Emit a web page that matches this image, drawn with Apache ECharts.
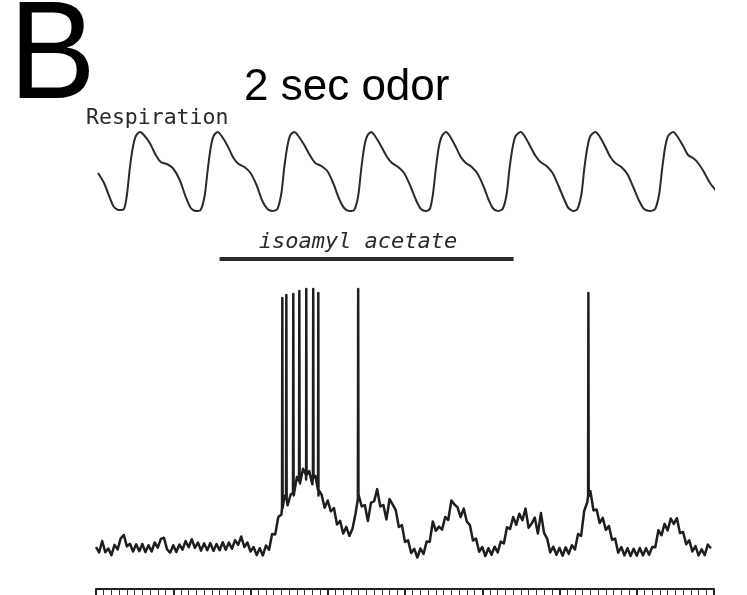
<!DOCTYPE html>
<html><head><meta charset="utf-8">
<script src="https://cdn.jsdelivr.net/npm/echarts@6/dist/echarts.min.js"></script>
<style>html,body{margin:0;padding:0;background:#fff}#c{width:747px;height:595px}</style>
</head><body><div id="c"></div>
<script>
// ---- data (time in seconds) ----
const panelLabel = 'B';
const titleText = '2 sec odor';
const respLabel = 'Respiration';
const odorLabel = 'isoamyl acetate';
const odorWindow = [0.8, 2.703];

// respiration trace [time s, amplitude a.u.]
const respiration = [
[0.013,39],[0.052,29],[0.090,14],[0.116,5],[0.148,2],
[0.181,3],[0.200,17],[0.219,44],[0.239,65],[0.258,76],[0.284,80],[0.310,77],[0.348,69],[0.387,57],[0.419,50],[0.458,48],[0.497,44],[0.542,32],[0.581,15],[0.613,4],[0.645,1],[0.677,2],
[0.703,16],[0.723,42],[0.742,64],[0.761,76],[0.787,80],[0.813,76],[0.852,66],[0.890,54],[0.923,48],[0.961,45],[1.000,39],[1.039,27],[1.077,11],[1.110,3],[1.142,1],[1.174,3],
[1.200,19],[1.219,45],[1.239,66],[1.258,77],[1.284,80],[1.310,76],[1.348,67],[1.387,56],[1.419,49],[1.458,46],[1.497,41],[1.535,29],[1.574,13],[1.606,4],[1.639,1],[1.671,2],
[1.697,16],[1.716,42],[1.735,64],[1.755,76],[1.781,80],[1.806,76],[1.845,66],[1.884,55],[1.916,49],[1.955,45],[1.994,39],[2.032,27],[2.071,12],[2.103,3],[2.135,1],[2.161,3],
[2.181,18],[2.200,44],[2.219,65],[2.239,76],[2.265,80],[2.290,76],[2.329,65],[2.361,55],[2.394,49],[2.432,45],[2.471,38],[2.510,25],[2.542,12],[2.568,4],[2.600,1],[2.632,3],
[2.658,18],[2.677,44],[2.697,65],[2.716,76],[2.748,80],[2.774,76],[2.813,65],[2.845,56],[2.877,50],[2.916,46],[2.955,39],[2.994,26],[3.032,12],[3.058,4],[3.090,1],[3.116,3],
[3.142,18],[3.161,44],[3.181,65],[3.200,76],[3.232,80],[3.258,76],[3.297,65],[3.329,55],[3.361,49],[3.400,45],[3.439,38],[3.477,25],[3.516,11],[3.548,3],[3.587,1],[3.619,3],
[3.645,18],[3.665,44],[3.684,65],[3.703,76],[3.735,80],[3.761,76],[3.800,66],[3.832,57],[3.865,54],[3.897,49],[3.935,40],[3.974,29],[4.026,19]
];

// membrane potential (mV), sampled every voltageStep seconds from voltageStart
const voltageStart = 0;
const voltageStep = 0.02;
const voltage = [
-59.0,-60.8,-57.0,-60.7,-59.5,-61.7,-58.3,-59.8,-56.1,-55.0,
-58.8,-57.9,-60.5,-58.1,-60.4,-58.0,-60.7,-58.4,-60.5,-57.5,
-59.2,-56.3,-55.9,-59.8,-60.9,-58.4,-60.7,-58.2,-59.9,-57.0,
-59.1,-56.4,-59.3,-57.5,-60.2,-57.8,-60.1,-57.7,-60.3,-58.0,
-60.1,-57.4,-59.9,-57.5,-59.6,-56.7,-58.3,-55.5,-59.0,-57.5,
-60.5,-59.0,-61.7,-59.4,-61.8,-58.5,-59.9,-54.7,-54.8,-49.0,
-48.2,-42.0,-45.1,-41.5,-41.8,-35.7,-37.8,-32.9,-36.5,-33.7,
-38.1,-35.3,-41.8,-41.5,-45.9,-43.5,-47.1,-46.0,-51.5,-50.3,
-54.5,-52.3,-55.3,-52.9,-47.8,-41.7,-45.5,-45.0,-50.3,-44.2,
-43.8,-39.7,-45.5,-45.0,-49.8,-43.0,-44.8,-46.7,-52.3,-51.7,
-57.3,-56.8,-61.0,-59.6,-62.5,-59.5,-61.3,-57.2,-57.3,-50.5,
-53.6,-52.2,-53.2,-49.0,-50.0,-43.5,-44.8,-45.8,-49.0,-46.2,
-50.5,-51.7,-56.8,-56.2,-60.6,-59.0,-62.0,-59.4,-61.6,-58.9,
-60.8,-57.2,-57.8,-52.4,-53.0,-49.0,-51.6,-47.9,-50.1,-46.2,
-52.6,-51.2,-49.2,-54.5,-47.7,-54.3,-56.2,-60.8,-58.9,-61.6,
-59.3,-61.9,-59.1,-61.3,-58.4,-59.8,-54.7,-55.3,-46.9,-44.1,
-40.4,-46.8,-46.5,-51.0,-49.3,-53.3,-52.0,-56.6,-56.2,-60.9,
-59.0,-61.8,-59.4,-62.0,-59.6,-61.9,-59.3,-61.8,-59.4,-61.6,
-59.0,-59.1,-53.4,-55.1,-51.3,-53.5,-49.5,-51.3,-49.4,-54.4,
-54.0,-58.1,-56.8,-60.5,-58.7,-61.8,-59.8,-61.7,-58.2,-59.4
];

// action potentials
const spikeTimes = [1.206, 1.232, 1.277, 1.316, 1.361, 1.406, 1.439, 1.697, 3.187];
const spikePeaks = [24.0, 25.0, 25.3, 26.3, 27.0, 27.0, 25.7, 27.0, 25.7];
const spikeBases = [-46, -43, -41, -37, -35, -36, -40, -43, -42];

// ---- build ----
const vPoints = voltage.map((v, i) => [voltageStart + i * voltageStep, v]);
spikeTimes.forEach((t, k) => {
  vPoints.push([t - 0.002, spikeBases[k]], [t, spikePeaks[k]], [t + 0.002, spikeBases[k]]);
});
vPoints.sort((a, b) => a[0] - b[0]);

const odorLevel = 37;
const chart = echarts.init(document.getElementById('c'), null, {renderer: 'canvas'});
chart.setOption({
  animation: false,
  backgroundColor: '#fff',
  grid: [
    {left: 96, right: 33, top: 130, height: 82},
    {left: 96, right: 33, top: 250, height: 330}
  ],
  xAxis: [
    {gridIndex: 0, type: 'value', min: 0, max: 4, show: false},
    {gridIndex: 1, type: 'value', min: 0, max: 4, interval: 0.5, offset: 9, position: 'bottom',
     axisLine: {show: true, onZero: false, lineStyle: {color: '#222', width: 2}},
     axisTick: {show: true, length: 7, lineStyle: {color: '#222', width: 2}},
     minorTick: {show: true, splitNumber: 10, length: 7, lineStyle: {color: '#333', width: 1}},
     axisLabel: {show: false}, splitLine: {show: false}, minorSplitLine: {show: false}}
  ],
  yAxis: [
    {gridIndex: 0, type: 'value', min: 0, max: 82, show: false},
    {gridIndex: 1, type: 'value', min: -70, max: 40, show: false}
  ],
  series: [
    {type: 'line', xAxisIndex: 0, yAxisIndex: 0, data: respiration, showSymbol: false,
     smooth: 0.25, clip: false, lineStyle: {color: '#2a2a2a', width: 2}},
    {type: 'line', xAxisIndex: 1, yAxisIndex: 1, data: [[odorWindow[0], odorLevel], [odorWindow[1], odorLevel]],
     showSymbol: false, clip: false, lineStyle: {color: '#2b2b2b', width: 4}},
    {type: 'line', xAxisIndex: 1, yAxisIndex: 1, data: vPoints, showSymbol: false,
     clip: false, lineStyle: {color: '#1e1e1e', width: 2.5, join: 'round'}}
  ],
  graphic: [
    {type: 'text', x: 9, y: 59, scaleX: 0.93, style: {text: panelLabel, font: '140px "Liberation Sans"', fill: '#000', align: 'left', verticalAlign: 'middle'}},
    {type: 'text', x: 244, y: 88, style: {text: titleText, font: '44px "Liberation Sans"', fill: '#000', align: 'left', verticalAlign: 'middle'}},
    {type: 'text', x: 86, y: 118, style: {text: respLabel, font: '21.5px "DejaVu Sans Mono"', fill: '#2a2a2a', align: 'left', verticalAlign: 'middle'}},
    {type: 'text', x: 358, y: 242, style: {text: odorLabel, font: 'italic 22px "DejaVu Sans Mono"', fill: '#2a2a2a', align: 'center', verticalAlign: 'middle'}}
  ]
});
</script></body></html>
